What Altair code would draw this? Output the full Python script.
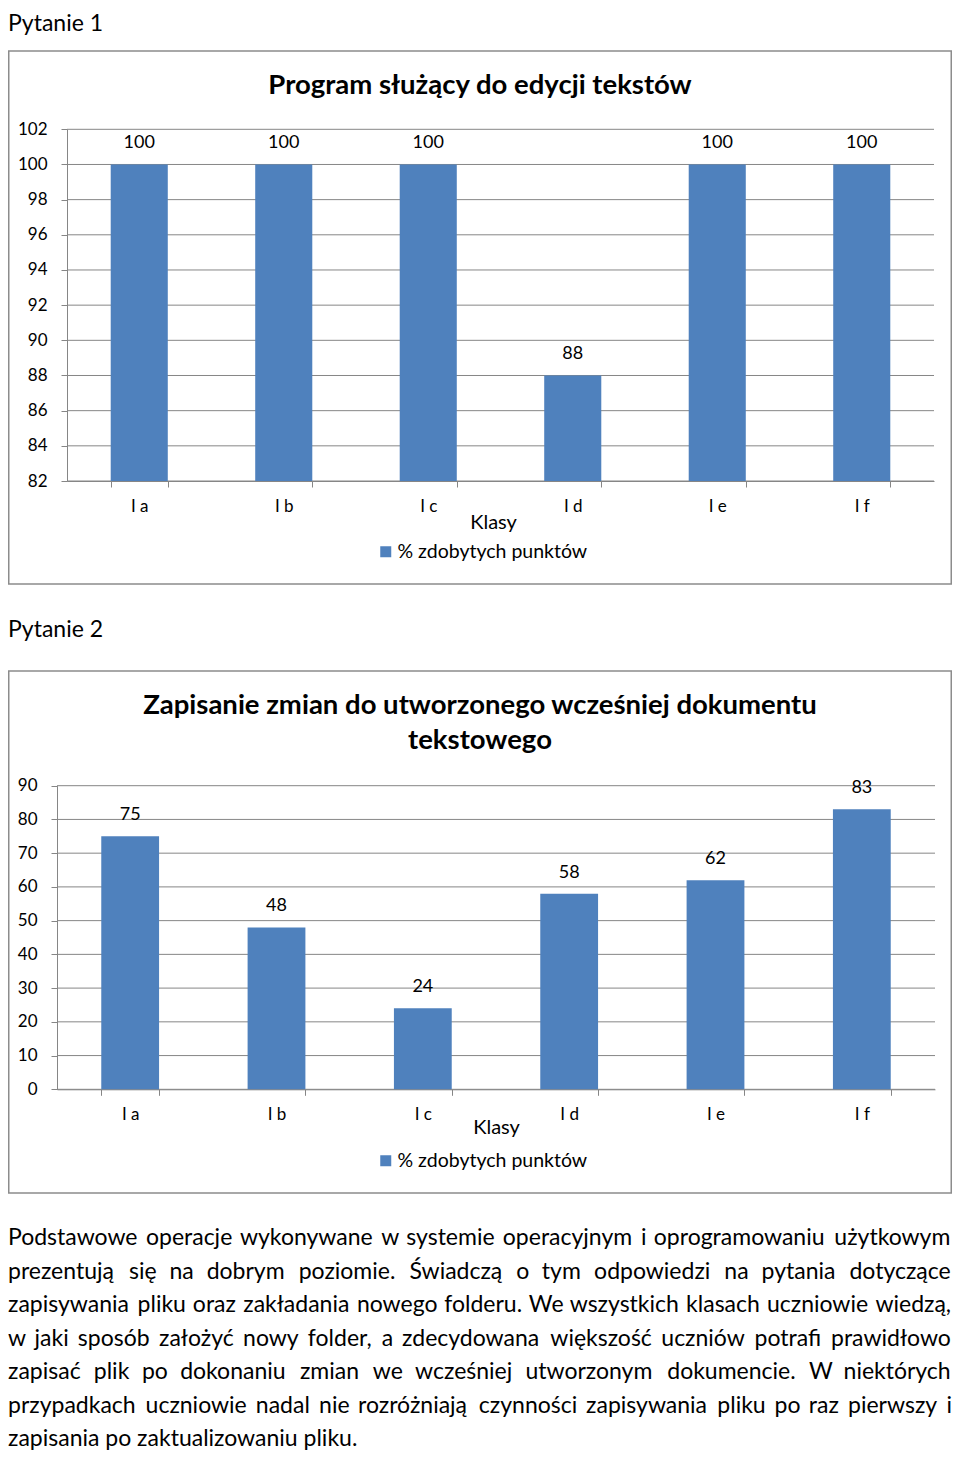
import altair as alt
import pandas as pd

# ---------------- data ----------------
classes = ["I a", "I b", "I c", "I d", "I e", "I f"]
q1_values = [100, 100, 100, 88, 100, 100]
q2_values = [75, 48, 24, 58, 62, 83]
q1_ticks = [82, 84, 86, 88, 90, 92, 94, 96, 98, 100, 102]
q2_ticks = [0, 10, 20, 30, 40, 50, 60, 70, 80, 90]
series_name = "% zdobytych punktów"
x_title = "Klasy"
q1_header = "Pytanie 1"
q2_header = "Pytanie 2"
q1_title = "Program służący do edycji tekstów"
q2_title_lines = ["Zapisanie zmian do utworzonego wcześniej dokumentu", "tekstowego"]
paragraph_lines = [
    "Podstawowe operacje wykonywane w systemie operacyjnym i oprogramowaniu użytkowym",
    "prezentują się na dobrym poziomie.  Świadczą o tym odpowiedzi na pytania dotyczące",
    "zapisywania pliku oraz zakładania nowego folderu. We wszystkich klasach uczniowie wiedzą,",
    "w jaki sposób założyć nowy folder, a zdecydowana większość uczniów potrafi prawidłowo",
    "zapisać plik po dokonaniu zmian we wcześniej utworzonym dokumencie. W niektórych",
    "przypadkach uczniowie nadal nie rozróżniają czynności zapisywania pliku po raz pierwszy i",
    "zapisania po zaktualizowaniu pliku.",
]

FONT = "Lato"
BAR = "#4F81BD"
GRAY = "#868686"
FRAME = "#8C8C8C"
W, H = 944, 1446
one = pd.DataFrame({"k": [0]})

# ---- text justification helpers (approximate Lato widths, em units) ----
PARA_SIZE = 23
LINE_NATURAL = [922, 857, 928, 900, 869, 904, 349]  # rendered width of each line at PARA_SIZE
CW = {
    " ": .193, "a": .50, "b": .56, "c": .46, "d": .56, "e": .52, "f": .32, "g": .50,
    "h": .56, "i": .24, "j": .24, "k": .50, "l": .24, "m": .84, "n": .56, "o": .56,
    "p": .56, "r": .37, "s": .43, "t": .35, "u": .56, "w": .77, "y": .51, "z": .46,
    "ł": .27, "ą": .50, "ę": .52, "ó": .56, "ś": .43, "ć": .46, "ż": .46, "ź": .46,
    "ń": .56, "P": .60, "W": .96, "Ś": .54, ",": .22, ".": .22,
}


def est(s):
    return sum(CW.get(ch, .5) for ch in s)


rows = []
for li, line in enumerate(paragraph_lines):
    words = line.split()
    if li == len(paragraph_lines) - 1:
        rows.append({"word": line, "xpos": 0.0, "row": li})
        continue
    k = LINE_NATURAL[li] / est(" ".join(words))
    wsum = sum(est(w) for w in words) * k
    gap = (W - wsum) / (len(words) - 1)
    x = 0.0
    for wi, w in enumerate(words):
        rows.append({"word": w, "xpos": x, "row": li})
        x += est(w) * k + gap
    rows[-1]["xpos"] = W - est(words[-1]) * k
pdf = pd.DataFrame(rows)


def text_item(txt, x, y, size, weight="normal", align="center"):
    return alt.Chart(one).mark_text(
        text=txt, font=FONT, fontSize=size, fontWeight=weight, color="black",
        align=align, baseline="middle",
    ).encode(x=alt.value(x), y=alt.value(y))


def frame_item(x0, x1, y0, y1):
    return alt.Chart(one).mark_rect(
        fill="white", fillOpacity=0, stroke=FRAME, strokeWidth=1.5
    ).encode(x=alt.value(x0), x2=alt.value(x1), y=alt.value(y0), y2=alt.value(y1))


def bar_panel(values, ticks, ymin, ymax, xr, yr, axis_y, klasy_xy, legend_xy):
    df = pd.DataFrame({"cls": classes, "val": values, "series": [series_name] * len(classes)})
    tdf = pd.DataFrame({"val": ticks})
    xscale = alt.Scale(domain=classes, range=list(xr), paddingInner=0.605, paddingOuter=0.3025)
    yscale = alt.Scale(domain=[ymin, ymax], range=[yr[1], yr[0]], nice=False, zero=False)
    xenc = alt.X(
        "cls:N", sort=classes, scale=xscale,
        axis=alt.Axis(
            orient="bottom", offset=axis_y - H, labelAngle=0, tickBand="extent",
            grid=False, domainColor=GRAY, tickColor=GRAY, tickSize=6,
            labelPadding=11.5, labelFont=FONT, labelFontSize=17, labelColor="black",
            labelOverlap=False, title=x_title, titleFont=FONT, titleFontSize=20,
            titleFontWeight="normal", titleColor="black", titleX=klasy_xy[0],
            titleY=klasy_xy[1], titleBaseline="middle", titleAlign="center",
        ),
    )
    yenc = alt.Y(
        "val:Q", scale=yscale,
        axis=alt.Axis(
            orient="left", offset=-xr[0], values=ticks, format="d", grid=False,
            domainColor=GRAY, tickColor=GRAY, tickSize=6, labelPadding=14,
            labelFont=FONT, labelFontSize=17, labelColor="black",
            labelOverlap=False, title=None,
        ),
    )
    grid = alt.Chart(tdf).mark_rule(color=GRAY, strokeWidth=1).encode(
        y=alt.Y("val:Q"), x=alt.value(xr[0]), x2=alt.value(xr[1])
    )
    bars = alt.Chart(df).mark_bar(color=BAR).encode(
        x=xenc, y=yenc, y2=alt.datum(ymin),
        color=alt.Color(
            "series:N", scale=alt.Scale(domain=[series_name], range=[BAR]),
            legend=alt.Legend(
                title=None, orient="none", legendX=legend_xy[0], legendY=legend_xy[1],
                symbolType="square", symbolSize=121, symbolStrokeWidth=0,
                labelFont=FONT, labelFontSize=19.5, labelColor="black",
                labelOffset=2, labelLimit=400, padding=0,
            ),
        ),
    )
    labels = alt.Chart(df).mark_text(
        font=FONT, fontSize=18, color="black", baseline="middle", dy=-21
    ).encode(x=alt.X("cls:N", sort=classes), y=alt.Y("val:Q"), text="val:Q")
    return alt.layer(grid, bars, labels)


# panel 1 (view coords = page - 8)
p1 = bar_panel(
    q1_values, q1_ticks, 82, 102, xr=(59, 926), yr=(121.3, 473), axis_y=473,
    klasy_xy=(485, 41), legend_xy=(368, 534),
)
# panel 2
p2 = bar_panel(
    q2_values, q2_ticks, 0, 90, xr=(49, 927), yr=(777.7, 1081.3), axis_y=1081.3,
    klasy_xy=(488, 37.7), legend_xy=(368, 1143),
)

# paragraph (one text per word, justified lines)
para = alt.Chart(pdf).mark_text(
    font=FONT, fontSize=PARA_SIZE, color="black", align="left", baseline="middle"
).encode(
    x=alt.X("xpos:Q", scale=alt.Scale(domain=[0, W], range=[0, W]), axis=None),
    y=alt.Y("row:Q", scale=alt.Scale(domain=[0, 6], range=[1230, 1431]), axis=None),
    text="word:N",
)

deco = [
    frame_item(0.75, 943.25, 43, 576),
    frame_item(0.75, 943.25, 663, 1185),
    text_item(q1_header, 0, 16, 23, align="left"),
    text_item(q2_header, 0, 622, 23, align="left"),
    text_item(q1_title, 472, 78, 27.5, weight="bold"),
    text_item(q2_title_lines[0], 472, 698, 27.5, weight="bold"),
    text_item(q2_title_lines[1], 472, 733, 27.5, weight="bold"),
]

chart = alt.layer(*deco, p1, p2, para).resolve_scale(
    x="independent", y="independent", color="independent"
).resolve_legend(color="independent").properties(
    width=W, height=H, padding=0, background="white",
    autosize=alt.AutoSizeParams(type="none"),
).configure_view(stroke=None)

chart.save("out.html", embed_options={"renderer": "svg", "actions": False})
